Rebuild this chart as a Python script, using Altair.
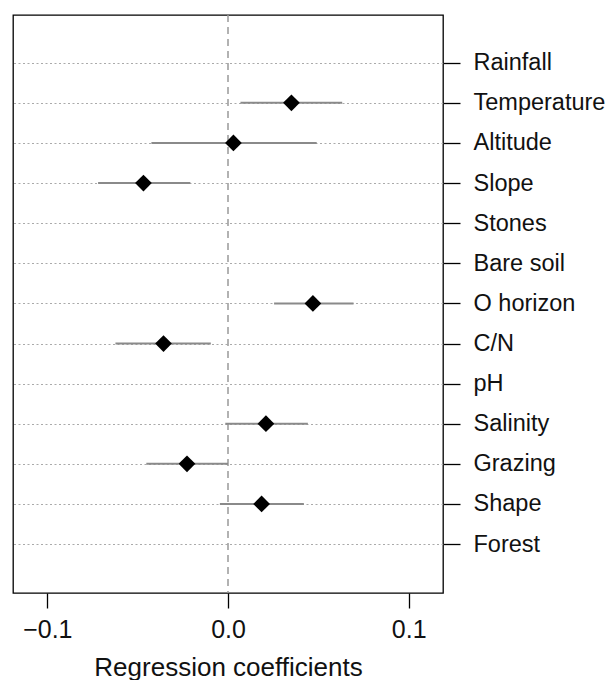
import altair as alt
import pandas as pd

variables = ["Rainfall", "Temperature", "Altitude", "Slope", "Stones", "Bare soil",
             "O horizon", "C/N", "pH", "Salinity", "Grazing", "Shape", "Forest"]
coef = [None, 0.0351, 0.0030, -0.0468, None, None, 0.0470, -0.0357, None, 0.0210, -0.0227, 0.0186, None]
lower = [None, 0.0069, -0.0424, -0.0719, None, None, 0.0255, -0.0623, None, -0.0015, -0.0452, -0.0045, None]
upper = [None, 0.0632, 0.0491, -0.0208, None, None, 0.0695, -0.0095, None, 0.0442, 0.0000, 0.0420, None]
x_ticks = [-0.1, 0.0, 0.1]

df = pd.DataFrame({"var": variables, "idx": list(range(len(variables))),
                   "coef": coef, "lo": lower, "hi": upper})
est = df.dropna()

FONT = "Liberation Sans"

xscale = alt.Scale(domain=[-0.119, 0.119], nice=False, zero=False)
yscale = alt.Scale(domain=[-1.19, len(variables) - 1 + 1.22], nice=False, zero=False, reverse=True)

names_js = "[" + ",".join("'" + v + "'" for v in variables) + "]"

xaxis = alt.Axis(values=x_ticks, format=".1f", grid=False, domain=False,
                 tickSize=15, tickColor="#000", tickWidth=1.3,
                 labelFont=FONT, labelFontSize=25, labelColor="#111",
                 labelBaseline="alphabetic", labelPadding=29,
                 title="Regression coefficients", titleFont=FONT, titleFontSize=26,
                 titleFontWeight="normal", titleColor="#111",
                 titleBaseline="alphabetic", titleY=82)
yaxis = alt.Axis(orient="right", title=None, domain=False,
                 values=list(range(len(variables))),
                 labelExpr=names_js + "[datum.value]",
                 tickSize=17, tickColor="#000", tickWidth=1.3,
                 labelFont=FONT, labelFontSize=23.5, labelColor="#111", labelPadding=13,
                 labelBaseline="middle",
                 grid=True, gridColor="#aaaaaa", gridDash=[2, 2.5], gridWidth=1.2)

grid_layer = alt.Chart(df).mark_point(opacity=0).encode(
    x=alt.X("coef:Q", scale=xscale, axis=xaxis),
    y=alt.Y("idx:Q", scale=yscale, axis=yaxis),
)

zero_line = alt.Chart(pd.DataFrame({"z": [0.0]})).mark_rule(
    color="#999999", strokeDash=[7, 5], strokeWidth=1.5
).encode(x=alt.X("z:Q", scale=xscale))

ci = alt.Chart(est).mark_rule(color="#8a8a8a", strokeWidth=2).encode(
    x=alt.X("lo:Q", scale=xscale),
    x2="hi:Q",
    y=alt.Y("idx:Q", scale=yscale),
)

pts = alt.Chart(est).mark_point(shape="diamond", filled=True, color="#000",
                                opacity=1, size=280).encode(
    x=alt.X("coef:Q", scale=xscale),
    y=alt.Y("idx:Q", scale=yscale),
)

chart = alt.layer(grid_layer, zero_line, ci, pts).properties(
    width=430, height=578,
    padding={"left": 5, "top": 6, "right": 0, "bottom": 0},
).configure_view(stroke="#000", strokeWidth=1.3)

chart.save("out.html", embed_options={"renderer": "svg", "actions": False})
